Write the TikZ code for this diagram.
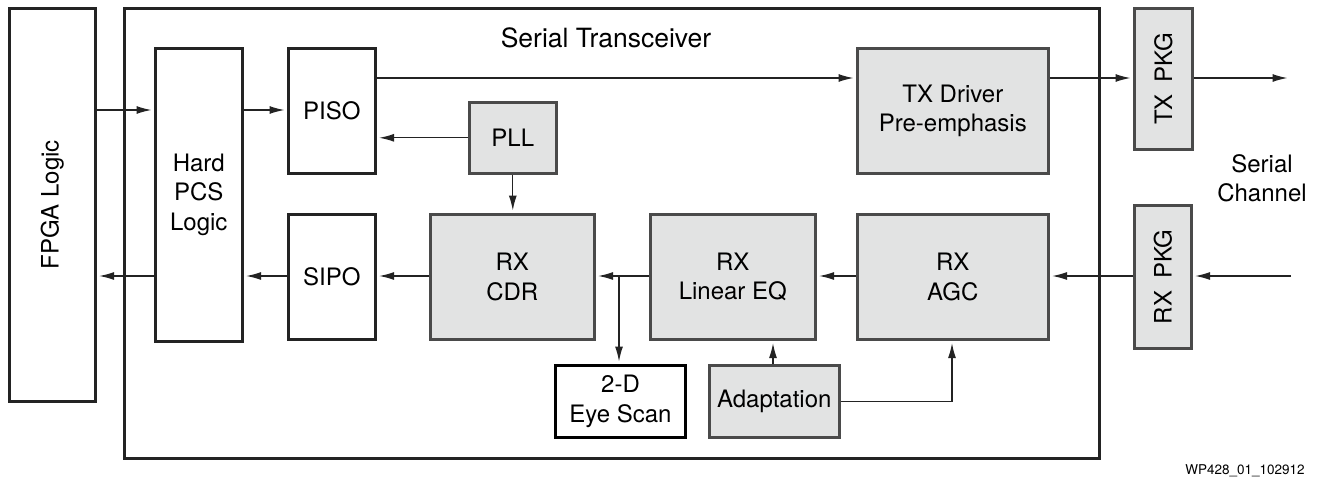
\documentclass[tikz,border=0pt]{standalone}
\usepackage{fontspec}
\setmainfont{TeX Gyre Heros}
\usetikzlibrary{arrows.meta}
\definecolor{boxgray}{HTML}{E2E3E3}
\definecolor{edgegray}{HTML}{4A4A4A}
\definecolor{edgedark}{HTML}{232323}
\begin{document}
\begin{tikzpicture}[x=1pt,y=-1pt,
  lbl/.style={font=\fontsize{24}{29.5}\selectfont, align=center, text=black},
  sz/.style 2 args={minimum width=#1, minimum height=#2},
  wbox/.style={lbl, draw=edgedark, line width=2.6pt, fill=white, inner sep=0pt, anchor=north west},
  gbox/.style={lbl, draw=edgegray, line width=2.6pt, fill=boxgray, inner sep=0pt, anchor=north west},
  arr/.style={draw=edgedark, line width=1.3pt, -{Latex[length=15pt,width=8pt]}, shorten >=2.5pt},
  ln/.style={draw=edgedark, line width=1.3pt}]
\useasboundingbox (0,0) rectangle (1317,480);

% outer frame
\node[wbox, line width=3pt, sz={975}{450}] (xcvr) at (123,7) {};
\node[lbl, font=\fontsize{26.5}{30}\selectfont] (xcvrlbl) at (606,38) {Serial Transceiver};

% left blocks
\node[wbox, sz={86}{393}] (fpga) at (8,7) {};
\node[lbl, rotate=90] (fpgalbl) at (fpga.center) {FPGA Logic};
\node[wbox, sz={87}{293}] (pcs) at (154,47) {Hard\\PCS\\Logic};
\node[wbox, sz={87}{125}] (piso) at (287,47) {PISO};
\node[wbox, sz={87}{125}] (sipo) at (287,213) {SIPO};

% gray blocks
\node[gbox, sz={87}{71}] (pll) at (468,101) {PLL};
\node[gbox, sz={164}{125}] (cdr) at (429,213) {RX\\CDR};
\node[gbox, sz={165}{125}] (eq) at (649,213) {RX\\Linear EQ};
\node[gbox, sz={191}{125}] (agc) at (856,213) {RX\\AGC};
\node[gbox, sz={191}{125}] (txd) at (856,47) {TX Driver\\Pre-emphasis};
\node[wbox, line width=3pt, draw=black, sz={130}{72}] (eye) at (554,364) {2-D\\Eye Scan};
\node[gbox, sz={130}{72}] (adapt) at (708,364) {Adaptation};

% packages
\node[gbox, sz={58}{141}] (txpkg) at (1133,7) {};
\node[lbl, rotate=90] (txpkglbl) at (txpkg.center) {TX\enspace PKG};
\node[gbox, sz={57}{143}] (rxpkg) at (1133,204) {};
\node[lbl, rotate=90] (rxpkglbl) at (rxpkg.center) {RX\enspace PKG};

\node[lbl] (chan) at (1262,178) {Serial\\Channel};
\node[font=\fontsize{13.5}{15}\selectfont, text=black] (wp) at (1245,471) {WP428\_01\_102912};

% free ends
\coordinate (txout) at (1290,78);
\coordinate (rxin) at (1291,276);
\coordinate (tap) at (619,276);

% connectors: transmit path
\draw[arr] (fpga.east |- 0,110) -- (pcs.west |- 0,110);
\draw[arr] (pcs.east |- 0,110) -- (piso.west |- 0,110);
\draw[arr] (piso.east |- 0,78) -- (txd.west |- 0,78);
\draw[arr] (txd.east |- 0,78) -- (txpkg.west |- 0,78);
\draw[arr] (txpkg.east |- 0,78) -- (txout);

% PLL
\draw[arr] (pll.west) -- (piso.east |- pll.west);
\draw[arr] (pll.south) -- (cdr.north -| pll.south);

% receive path
\draw[arr] (rxin) -- (rxpkg.east |- rxin);
\draw[arr] (rxpkg.west |- rxin) -- (agc.east |- rxin);
\draw[arr] (agc.west |- rxin) -- (eq.east |- rxin);
\draw[arr] (eq.west |- rxin) -- (cdr.east |- rxin);
\draw[arr] (tap) -- (tap |- eye.north);
\draw[arr] (cdr.west |- rxin) -- (sipo.east |- rxin);
\draw[arr] (sipo.west |- rxin) -- (pcs.east |- rxin);
\draw[arr] (pcs.west |- rxin) -- (fpga.east |- rxin);

% adaptation
\draw[arr] (adapt.north -| 773,0) -- (eq.south -| 773,0);
\draw[arr] (adapt.east) -| (agc.south -| 952,0);
\end{tikzpicture}
\end{document}
